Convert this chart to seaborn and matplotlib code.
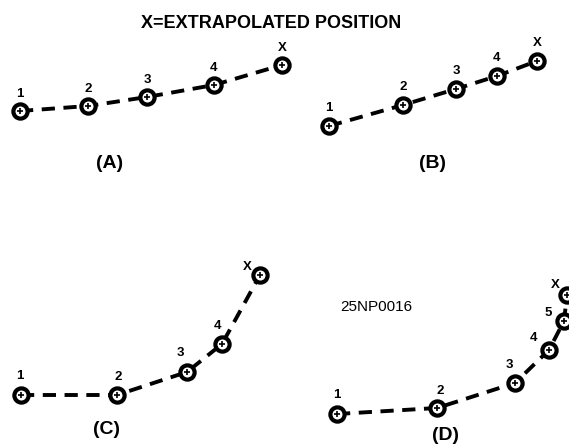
import matplotlib
matplotlib.use("Agg")
import matplotlib.pyplot as plt
import seaborn as sns
import pandas as pd

# Point positions (pixel coords, y grows downward)
a_x = [20, 88, 147, 214, 282]
a_y = [111, 106, 97, 85, 65]
a_labels = ['1', '2', '3', '4', 'X']

b_x = [329, 403, 456, 497, 537]
b_y = [126, 105, 89, 76, 61]
b_labels = ['1', '2', '3', '4', 'X']

c_x = [21, 117, 187, 222, 260]
c_y = [395, 395, 372, 344, 275]
c_labels = ['1', '2', '3', '4', 'X']

d_x = [337, 437, 515, 549, 564, 567]
d_y = [414, 408, 383, 350, 321, 295]
d_labels = ['1', '2', '3', '4', '5', 'X']

panel_names = ['(A)', '(B)', '(C)', '(D)']

# label offsets (dx, dy) from each point, and panel caption positions
label_offsets = {
    'A': [(0, -17)] * 5,
    'B': [(0, -18)] * 5,
    'C': [(-1, -19), (1, -18), (-7, -19), (-4, -18), (-13, -8)],
    'D': [(0, -19), (3, -17), (-6, -18), (-15, -12), (-16, -8), (-12, -10)],
}
caption_pos = [(110, 163), (433, 163), (107, 429), (446, 436)]

sns.set_theme(style="white")
plt.rcParams['font.family'] = ['Liberation Sans', 'DejaVu Sans']

fig = plt.figure(figsize=(5.69, 4.47), dpi=100)
ax = fig.add_axes([0, 0, 1, 1])
ax.set_xlim(0, 569)
ax.set_ylim(447, 0)
ax.axis('off')

panels = [('A', a_x, a_y, a_labels), ('B', b_x, b_y, b_labels),
          ('C', c_x, c_y, c_labels), ('D', d_x, d_y, d_labels)]

for key, xs, ys, labs in panels:
    df = pd.DataFrame({'x': xs, 'y': ys})
    sns.lineplot(data=df, x='x', y='y', sort=False, ax=ax, color='black',
                 linewidth=2.8, linestyle=(0, (3.4, 2.2)), zorder=1)
    ax.scatter(xs, ys, s=105, facecolor='white', edgecolor='black',
               linewidth=3.0, zorder=3)
    ax.scatter(xs, ys, s=16, marker='+', color='black', linewidth=1.2, zorder=4)
    for (px, py), lab, (dx, dy) in zip(zip(xs, ys), labs, label_offsets[key]):
        ax.text(px + dx, py + dy, lab, ha='center', va='center',
                fontsize=9.5, fontweight='bold', color='black')

for (cx, cy), name in zip(caption_pos, panel_names):
    ax.text(cx, cy, name, ha='center', va='center', fontsize=14,
            fontweight='bold', color='black')

ax.text(271, 23, 'X=EXTRAPOLATED POSITION', ha='center', va='center',
        fontsize=13, fontweight='bold', color='black')
ax.text(340, 307, '25NP0016', ha='left', va='center', fontsize=11,
        color='black')

fig.savefig('out.png', dpi=100)
